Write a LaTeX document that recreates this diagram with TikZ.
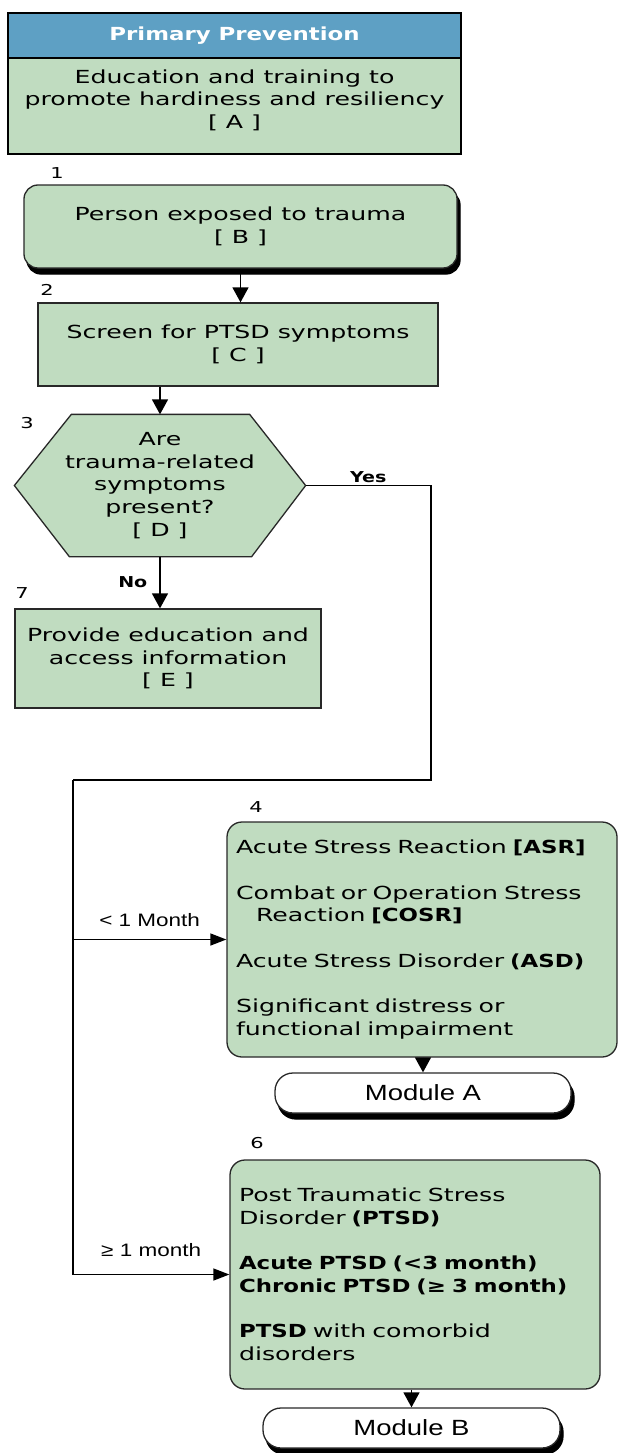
\documentclass[tikz,border=0pt]{standalone}
\usepackage{fontspec}
\usetikzlibrary{arrows.meta,shadows,backgrounds,positioning,calc}
\newfontfamily\boxfont[UprightFeatures={FakeStretch=1.4},BoldFeatures={FakeStretch=1.27}]{DejaVu Sans}
\newfontfamily\tagfont[FakeStretch=1.25]{Liberation Sans}
\definecolor{boxgreen}{RGB}{192,220,192}
\definecolor{headblue}{RGB}{94,160,196}
\definecolor{edge}{RGB}{40,40,40}

\begin{document}
\begin{tikzpicture}[x=1pt,y=-1pt]
\tikzstyle{block} = [rectangle, draw=edge, line width=1.3pt, fill=boxgreen, align=center,
inner sep=0pt, font=\boxfont\fontsize{18}{22.7}\selectfont]
\tikzstyle{rblock} = [block, rounded corners=15pt, align=left, inner xsep=9pt]
\tikzstyle{terminal} = [block, rounded corners=14pt,
copy shadow={shadow xshift=3pt, shadow yshift=-6pt, fill=black, draw=black}]
\tikzstyle{module} = [terminal, fill=white, rounded corners=18pt,
font=\tagfont\fontsize{22}{26}\selectfont]
\tikzstyle{num} = [inner sep=0pt, font=\boxfont\fontsize{15}{17}\selectfont]
\tikzstyle{answer} = [inner sep=2pt, font=\boxfont\bfseries\fontsize{15}{17}\selectfont]
\tikzstyle{period} = [inner sep=2pt, font=\tagfont\fontsize{18}{21}\selectfont]
\tikzstyle{line} = [draw, line width=1.4pt, -{Triangle[width=16pt,length=15pt]}];
\tikzstyle{hline} = [line, -{Triangle[width=12pt,length=16pt]}];

\useasboundingbox (0,0) rectangle (618,1453);

% primary prevention
\node[block, draw=black, line width=2pt, minimum width=453pt, minimum height=96pt] (prevbody) at (234.5,106)
{Education and training to\\promote hardiness and resiliency\\{[ A ]}\rule[-14pt]{0pt}{14pt}};
\node[block, draw=black, fill=headblue, text=white, font=\boxfont\bfseries\fontsize{18}{22}\selectfont,
line width=2pt, minimum width=453pt, minimum height=45pt] (prevhead) at (234.5,35.5) {Primary Prevention};

% step 1
\node[num] (n1) at (57,173) {1};
\node[terminal, minimum width=433pt, minimum height=83pt] (exposed) at (240.5,226.5)
{Person exposed to trauma\\{[ B ]}};
% step 2
\node[num] (n2) at (47,290) {2};
\node[block, minimum width=400pt, minimum height=83pt] (screen) at (238,344.5)
{Screen for PTSD symptoms\\{[ C ]}};
% step 3
\node[num] (n3) at (27,423) {3};
\node[block, draw=none, fill=none, minimum width=290pt, minimum height=141pt] (decide) at (160,485.5)
{Are\\trauma-related\\symptoms\\present?\\{[ D ]}};
\begin{scope}[on background layer]
\draw[line width=1.3pt, draw=edge, fill=boxgreen] (decide.west)
 -- ($(decide.north west)+(57,0)$) -- ($(decide.north east)+(-56,0)$) -- (decide.east)
 -- ($(decide.south east)+(-54,0)$) -- ($(decide.south west)+(55,0)$) -- cycle;
\end{scope}
% step 7
\node[num] (n7) at (22,593) {7};
\node[block, minimum width=306pt, minimum height=99pt] (educate) at (168,658.5)
{Provide education and\\access information\\{[ E ]}};
% step 4
\node[num] (n4) at (256,807) {4};
\node[rblock, minimum width=390pt, minimum height=235pt, text width=372pt] (acute) at (422,939.5)
{Acute Stress Reaction \textbf{[ASR]}\\[22.7pt]
Combat or Operation Stress\\\hspace*{20pt}Reaction \textbf{[COSR]}\\[22.7pt]
Acute Stress Disorder \textbf{(ASD)}\\[22.7pt]
Significant distress or\\functional impairment};
\node[module, minimum width=296pt, minimum height=40pt] (modA) at (423,1093) {Module A};
% step 6
\node[num] (n6) at (257,1143) {6};
\node[rblock, minimum width=370pt, minimum height=229pt, text width=352pt] (chronic) at (415,1274.5)
{Post Traumatic Stress\\Disorder \textbf{(PTSD)}\\[22.7pt]
\textbf{Acute PTSD (<3 month)}\\\textbf{Chronic PTSD (≥ 3 month)}\\[22.7pt]
\textbf{PTSD} with comorbid\\disorders};
\node[module, minimum width=297pt, minimum height=40pt] (modB) at (411.5,1428) {Module B};

% connectors
\coordinate (turn) at (431,487);
\coordinate (split) at (73,780);
\path[line] (exposed) -- (exposed |- screen.north);
\path[line] (screen.south -| decide) -- (decide.north);
\path[line] (decide.south) -- node[answer, midway, left=10pt] {No} (decide.south |- educate.north);
\draw[line width=1.4pt] (decide.east) -- node[answer, midway, above] {Yes} (decide.east -| turn) |- (split);
\path[hline] (split) |- node[period, pos=0.75, above=15pt] {≥ 1 month} (chronic.west);
\path[hline] (split |- acute.west) -- node[period, midway, above=10pt] {< 1 Month} (acute.west);
\path[line] (modA.north |- acute.south) -- (modA.north);
\path[line] (modB.north |- chronic.south) -- (modB.north);

\end{tikzpicture}
\end{document}
